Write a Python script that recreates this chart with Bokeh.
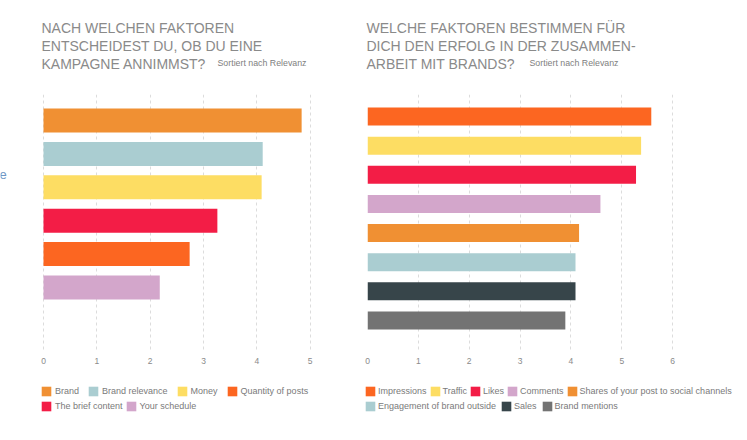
from bokeh.plotting import figure
from bokeh.models import Range1d, FixedTicker, Label, Legend, LegendItem, ColumnDataSource
from bokeh.layouts import row, column
from bokeh.core.properties import value
from bokeh.embed import file_html
from bokeh.resources import INLINE

FONT = "Liberation Sans"

# ---------------- data ----------------
left_title = ["NACH WELCHEN FAKTOREN", "ENTSCHEIDEST DU, OB DU EINE", "KAMPAGNE ANNIMMST?"]
right_title = ["WELCHE FAKTOREN BESTIMMEN FÜR", "DICH DEN ERFOLG IN DER ZUSAMMEN-", "ARBEIT MIT BRANDS?"]
subtitle = "Sortiert nach Relevanz"

left_categories = ["Brand", "Brand relevance", "Money", "The brief content",
                   "Quantity of posts", "Your schedule"]
left_values = [4.84, 4.11, 4.09, 3.26, 2.74, 2.18]
left_colors = ["#F09033", "#AACDD1", "#FDDD63", "#F31D46", "#FC6621", "#D3A6CB"]
left_legend_rows = [["Brand", "Brand relevance", "Money", "Quantity of posts"],
                    ["The brief content", "Your schedule"]]
left_tick_labels = [0, 1, 2, 3, 4, 5]
left_grid = [0, 1, 2, 3, 4, 5, 6]

right_categories = ["Impressions", "Traffic", "Likes", "Comments",
                    "Shares of your post to social channels",
                    "Engagement of brand outside", "Sales", "Brand mentions"]
right_values = [5.58, 5.38, 5.28, 4.58, 4.16, 4.09, 4.09, 3.89]
right_colors = ["#FC6621", "#FDDD63", "#F31D46", "#D3A6CB", "#F09033",
                "#AACDD1", "#37454A", "#737373"]
right_legend_rows = [["Impressions", "Traffic", "Likes", "Comments",
                      "Shares of your post to social channels"],
                     ["Engagement of brand outside", "Sales", "Brand mentions"]]
right_tick_labels = [0, 1, 2, 3, 4, 5, 6]
right_grid = [0, 1, 2, 3, 4, 5, 6]

# ---------------- layout constants (page pixels) ----------------
OFF = 1
HEAD_H = 86
FRAME_TOP = 95
FRAME_BOTTOM = 351
CHART_H = 288
CH_TOP = FRAME_TOP - (OFF + HEAD_H)
FRAME_H = FRAME_BOTTOM - FRAME_TOP
CH_BOTTOM = CHART_H - CH_TOP - FRAME_H
FOOT_TOP = OFF + HEAD_H + CHART_H
FOOT_H = 46


def header(x0, width, title_x, lines, sub_x):
    h = figure(width=width, height=HEAD_H, output_backend="svg", toolbar_location=None,
               x_range=Range1d(x0, x0 + width), y_range=Range1d(OFF + HEAD_H, OFF),
               min_border=0, x_axis_location=None, y_axis_location=None)
    h.grid.visible = False
    h.outline_line_color = None
    h.text(x=[title_x] * len(lines), y=[28 + 18 * i for i in range(len(lines))], text=lines,
           text_font=value(FONT), text_font_size="14px",
           text_color="#8a8a8a", text_baseline="alphabetic", text_align="left")
    h.text(x=[sub_x], y=[63], text=[subtitle], text_font=value(FONT), text_font_size="8.8px",
           text_color="#808080", text_baseline="alphabetic", text_align="left")
    return h


def chart(width, bl, br, x_start, x_end, y_range, cats, vals, colors, bar_h, ticks, grid):
    p = figure(width=width, height=CHART_H, output_backend="svg", toolbar_location=None,
               x_range=Range1d(x_start, x_end), y_range=Range1d(*y_range),
               min_border_left=bl, min_border_right=br,
               min_border_top=CH_TOP, min_border_bottom=CH_BOTTOM,
               y_axis_location=None)
    p.outline_line_color = None
    p.ygrid.visible = False
    p.xgrid.ticker = FixedTicker(ticks=grid)
    p.xgrid.grid_line_color = "#dcdcdc"
    p.xgrid.grid_line_dash = "3 3"
    ax = p.xaxis[0]
    ax.ticker = FixedTicker(ticks=ticks)
    ax.axis_line_color = None
    ax.major_tick_line_color = None
    ax.minor_tick_line_color = None
    ax.major_tick_out = 0
    ax.major_tick_in = 0
    ax.minor_tick_out = 0
    ax.minor_tick_in = 0
    ax.major_label_text_color = "#8a8a8a"
    ax.major_label_text_font = FONT
    ax.major_label_text_font_size = "8.5px"
    ax.major_label_standoff = 7
    src = ColumnDataSource(dict(y=list(range(len(cats))), v=vals, c=colors, name=cats))
    p.hbar(y="y", left=0, right="v", height=bar_h, fill_color="c", line_color=None, source=src)
    return p


def footer(x0, width, cats, colors, legend_rows, spacings, standoff, legend_x):
    f = figure(width=width, height=FOOT_H, output_backend="svg", toolbar_location=None,
               x_range=Range1d(x0, x0 + width), y_range=Range1d(FOOT_TOP + FOOT_H, FOOT_TOP),
               min_border=0, x_axis_location=None, y_axis_location=None)
    f.grid.visible = False
    f.outline_line_color = None
    # zero-length bars: only used to give the legend its swatches
    src = ColumnDataSource(dict(y=[FOOT_TOP] * len(cats), c=colors, name=cats))
    r = f.hbar(y="y", left=x0, right=x0, height=0, fill_color="c", line_color=None, source=src)
    for k, (names, sp) in enumerate(zip(legend_rows, spacings)):
        want_bottom = 398 + 15 * k
        items = [LegendItem(label=n, renderers=[r], index=cats.index(n)) for n in names]
        leg = Legend(items=items, location=(legend_x, FOOT_TOP + FOOT_H - want_bottom),
                     orientation="horizontal",
                     padding=0, margin=0, spacing=sp, label_standoff=standoff,
                     glyph_width=12, glyph_height=12, label_height=12,
                     label_text_font=FONT, label_text_font_size="9px",
                     label_text_color="#7a7a7a", border_line_color=None,
                     background_fill_alpha=0)
        f.add_layout(leg)
    return f


# left chart: frame spans page 1..364, 0 at page 44, 53.33 px per unit
l_scale = 53.333
ls = 33.4
l_y = ((FRAME_BOTTOM - 121) / ls, (FRAME_TOP - 121) / ls)
p1 = chart(363, 0, 0, 6 - 363 / l_scale, 6, l_y, left_categories, left_values, left_colors,
           24 / ls, left_tick_labels, left_grid)
p1.add_layout(Label(x=-1, y=FRAME_BOTTOM - 174.5, x_units="screen", y_units="screen",
                    text="e", text_font=FONT, text_font_size="13px", text_color="#6f96c4",
                    text_baseline="alphabetic"))

# right chart: frame spans page 368..724 (0..7)
rs = 29.14
r_y = ((FRAME_BOTTOM - 117) / rs, (FRAME_TOP - 117) / rs)
p2 = chart(375, 4, 15, 0, 7, r_y, right_categories, right_values, right_colors,
           18 / rs, right_tick_labels, right_grid)

h1 = header(OFF, 363, 42, left_title, 218)
h2 = header(OFF + 363, 375, 367, right_title, 530)

f1 = footer(OFF, 363, left_categories, left_colors, left_legend_rows, [8, 2], 3, 40)
f2 = footer(OFF + 363, 375, right_categories, right_colors, right_legend_rows, [2, 4], 2, 1)

layout = column(row(h1, h2), row(p1, p2), row(f1, f2))
open("out.html", "w").write(file_html(layout, INLINE))
